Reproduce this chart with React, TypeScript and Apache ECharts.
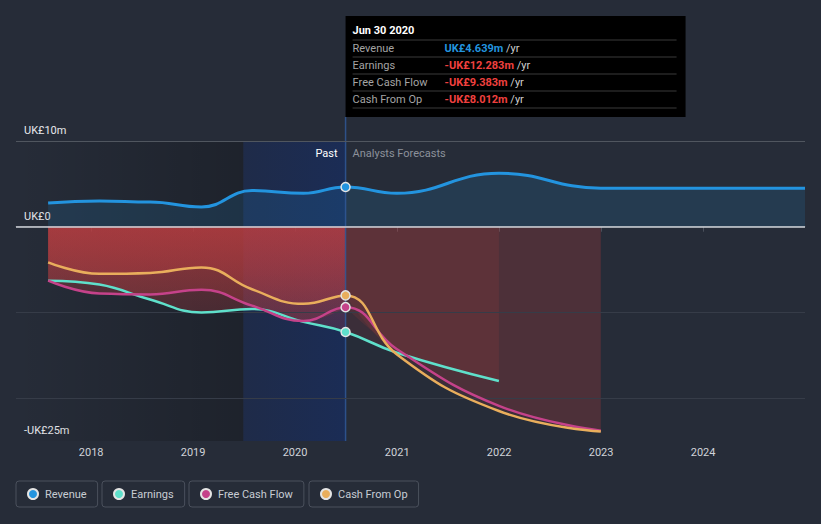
import React, { useEffect, useRef } from 'react';
import * as echarts from 'echarts';

// ---- data ----
const pastDates = ['2017-07-31', '2018-01-31', '2018-07-31', '2019-01-31', '2019-07-31', '2020-01-31', '2020-06-30'];
const forecastDates = ['2020-12-31', '2021-12-31', '2022-12-31', '2023-12-31', '2024-12-31'];

const revenuePast = [2.76, 3.0, 2.87, 2.29, 4.22, 3.9, 4.639];
const revenueForecast = [3.9, 6.24, 4.5, 4.5, 4.5];
const earningsPast = [-6.3, -6.75, -8.5, -10.0, -9.6, -11.1, -12.283];
const earningsForecast = [-14.7, -18.0];
const fcfPast = [-6.3, -7.8, -7.9, -7.35, -9.2, -11.0, -9.383];
const fcfForecast = [-14.3, -20.9, -23.8];
const cfoPast = [-4.15, -5.5, -5.4, -4.75, -7.3, -9.0, -8.012];
const cfoForecast = [-14.9, -21.5, -23.9];

const yTickLabels: Record<string, string> = { '10': 'UK£10m', '0': 'UK£0', '-25': '-UK£25m' };
const gridValues = [10, 0, -10, -20];

const seriesNames = ['Revenue', 'Earnings', 'Free Cash Flow', 'Cash From Op'];
const seriesColors = ['#2394df', '#5fe0cb', '#c5428a', '#e9ae5c'];

const tooltipTitle = 'Jun 30 2020';
const tooltipValues = ['UK£4.639m', '-UK£12.283m', '-UK£9.383m', '-UK£8.012m'];

const axisMin = '2017-04-07';
const axisMax = '2024-12-31';
const bandStart = '2019-06-30';
const nowDate = '2020-06-30';

const FONT = 'Roboto, sans-serif';

export default function App() {
  const ref = useRef<HTMLDivElement>(null);

  useEffect(() => {
    const el = ref.current!;
    const chart = echarts.init(el, null, { renderer: 'svg', width: 821, height: 524 });

    const zip = (d: string[], v: number[]) => v.map((y, i) => [d[i], y]);
    const full = (pv: number[], fv: number[]) => [...zip(pastDates, pv), ...zip(forecastDates, fv)];
    const fcPart = (pv: number[], fv: number[]) => [[pastDates[pastDates.length - 1], pv[pv.length - 1]], ...zip(forecastDates, fv)];
    const markIdx = pastDates.length - 1;
    const SM = 0.45;

    const pastRed = new echarts.graphic.LinearGradient(0, 0, 0, 1, [
      { offset: 0, color: 'rgba(190,62,65,0.45)' },
      { offset: 1, color: 'rgba(190,62,65,0.22)' },
    ]);
    const fcRed = 'rgba(190,62,65,0.14)';

    const areaSeries = (name: string, data: any[], fill: any, mono?: boolean) => ({
      name, type: 'line', data, z: 1, smooth: SM, smoothMonotone: mono ? 'x' : undefined, symbol: 'none', silent: true,
      lineStyle: { width: 0, opacity: 0 }, areaStyle: { color: fill, opacity: 1 },
      emphasis: { disabled: true },
    });

    const lineSeries = (i: number, data: any[], width: number, mono?: boolean) => ({
      name: seriesNames[i], type: 'line', data, z: 5, smooth: SM, smoothMonotone: mono ? 'x' : undefined, silent: true,
      showSymbol: true,
      symbol: (_v: any, p: any) => (p.dataIndex === markIdx ? 'circle' : 'none'),
      symbolSize: 9,
      lineStyle: { color: seriesColors[i], width },
      itemStyle: { color: seriesColors[i], borderColor: '#e4e4e4', borderWidth: 1.5 },
      emphasis: { disabled: true },
    });

    const legendLefts = [16, 102, 189, 309];

    const option: any = {
      animation: false,
      backgroundColor: '#262c38',
      textStyle: { fontFamily: FONT },
      grid: { left: 16, right: 16, top: 141, bottom: 83, containLabel: false },
      legend: seriesNames.map((n, i) => ({
        data: [n], left: legendLefts[i], top: 481, icon: 'circle', itemWidth: 10, itemHeight: 10,
        padding: [7, 11, 7, 11], borderColor: '#4a505c', borderWidth: 1, borderRadius: 3,
        selectedMode: false,
        textStyle: { color: '#c8ccd4', fontSize: 11, fontFamily: FONT, padding: [0, 0, 0, 2] },
      })),
      xAxis: {
        type: 'time', min: axisMin, max: axisMax,
        minInterval: 365 * 86400000, maxInterval: 366 * 86400000,
        axisLine: { show: true, lineStyle: { color: '#4a505c', width: 1 } },
        axisTick: { show: true, length: 5, lineStyle: { color: '#4a505c' } },
        splitLine: { show: false },
        axisLabel: { color: '#d0d3d8', fontSize: 11, fontFamily: FONT, margin: 6, formatter: '{yyyy}', hideOverlap: false },
      },
      yAxis: {
        type: 'value', min: -25, max: 10, interval: 5,
        axisLine: { show: false }, axisTick: { show: false }, splitLine: { show: false },
        axisLabel: {
          inside: true, margin: 8, color: '#e6e8ec', fontSize: 11, fontFamily: FONT,
          verticalAlign: 'bottom', padding: [0, 0, 5, 0],
          formatter: (v: number) => yTickLabels[String(v)] || '',
        },
      },
      series: [
        {
          name: 'bgPast', type: 'line', data: [], z: 0, silent: true,
          markArea: {
            silent: true,
            itemStyle: {
              color: new echarts.graphic.LinearGradient(0, 0, 1, 0, [
                { offset: 0, color: 'rgba(0,0,0,0)' },
                { offset: 1, color: 'rgba(0,0,0,0.22)' },
              ]),
            },
            data: [[{ xAxis: axisMin }, { xAxis: bandStart }]],
          },
        },
        areaSeries('revArea', full(revenuePast, revenueForecast), 'rgba(35,148,223,0.15)', true),
        areaSeries('earnPastArea', zip(pastDates, earningsPast), pastRed),
        areaSeries('fcfPastArea', zip(pastDates, fcfPast), pastRed),
        areaSeries('cfoPastArea', zip(pastDates, cfoPast), pastRed),
        areaSeries('earnFcArea', fcPart(earningsPast, earningsForecast), fcRed),
        areaSeries('fcfFcArea', fcPart(fcfPast, fcfForecast), fcRed),
        areaSeries('cfoFcArea', fcPart(cfoPast, cfoForecast), fcRed),
        {
          name: 'band', type: 'line', data: [], z: 2, silent: true,
          markArea: {
            silent: true,
            itemStyle: {
              color: new echarts.graphic.LinearGradient(0, 0, 1, 0, [
                { offset: 0, color: 'rgba(10,40,120,0.26)' },
                { offset: 1, color: 'rgba(10,45,130,0.4)' },
              ]),
            },
            data: [[{ xAxis: bandStart }, { xAxis: nowDate }]],
          },
          markLine: {
            silent: true, symbol: ['none', 'none'], label: { show: false },
            data: gridValues.map((v) => ({
              yAxis: v,
              lineStyle: {
                type: 'solid',
                color: v === 0 ? '#d0d3d8' : v === 10 ? '#50565f' : '#363c48',
                width: v === 0 ? 1.5 : 1,
              },
            })),
          },
        },
        lineSeries(0, full(revenuePast, revenueForecast), 3, true),
        lineSeries(1, full(earningsPast, earningsForecast), 2.5),
        lineSeries(2, full(fcfPast, fcfForecast), 2.5),
        lineSeries(3, full(cfoPast, cfoForecast), 2.5),
      ],
    };

    chart.setOption(option);

    const nowTs = echarts.time.parse(nowDate).getTime();
    const [px, yTop] = chart.convertToPixel({ gridIndex: 0 }, [nowTs, 10]) as number[];
    const [, yBot] = chart.convertToPixel({ gridIndex: 0 }, [nowTs, -25]) as number[];

    const boxTop = 16, boxH = 101, boxW = 340;
    const rowY = [48, 65, 82, 99];
    const sepY = [40, 57, 74, 91, 108];
    const graphic: any[] = [
      { type: 'line', z: 3, silent: true, shape: { x1: px, y1: boxTop + boxH, x2: px, y2: yBot }, style: { stroke: 'rgba(48,88,150,0.85)', lineWidth: 1.5 } },
      { type: 'text', z: 6, silent: true, x: px - 8, y: yTop + 12, style: { text: 'Past', fill: '#ffffff', font: `11px ${FONT}`, textAlign: 'right', verticalAlign: 'middle' } },
      { type: 'text', z: 6, silent: true, x: px + 7, y: yTop + 12, style: { text: 'Analysts Forecasts', fill: '#8c919b', font: `11px ${FONT}`, textAlign: 'left', verticalAlign: 'middle' } },
      { type: 'rect', z: 10, silent: true, shape: { x: px, y: boxTop, width: boxW, height: boxH }, style: { fill: '#000000' } },
      { type: 'text', z: 11, silent: true, x: px + 7, y: 30, style: { text: tooltipTitle, fill: '#ffffff', font: `bold 11px ${FONT}`, verticalAlign: 'middle' } },
    ];
    sepY.forEach((y) => graphic.push({ type: 'line', z: 11, silent: true, shape: { x1: px + 7, y1: y, x2: px + boxW - 9, y2: y }, style: { stroke: '#3a3a3a', lineWidth: 1 } }));
    seriesNames.forEach((n, i) => {
      graphic.push({ type: 'text', z: 11, silent: true, x: px + 7, y: rowY[i], style: { text: n, fill: '#a4a4a4', font: `11px ${FONT}`, verticalAlign: 'middle' } });
      graphic.push({
        type: 'text', z: 11, silent: true, x: px + 99, y: rowY[i],
        style: {
          text: `{v|${tooltipValues[i]}} {u|/yr}`, verticalAlign: 'middle', font: `11px ${FONT}`,
          rich: {
            v: { fill: i === 0 ? '#2394df' : '#f0403f', fontWeight: 'bold', fontSize: 11, fontFamily: FONT },
            u: { fill: '#cfcfcf', fontSize: 11, fontFamily: FONT },
          },
        },
      });
    });
    chart.setOption({ graphic });

    return () => chart.dispose();
  }, []);

  return <div ref={ref} style={{ position: 'fixed', left: 0, top: 0, width: 821, height: 524, background: '#262c38' }} />;
}
